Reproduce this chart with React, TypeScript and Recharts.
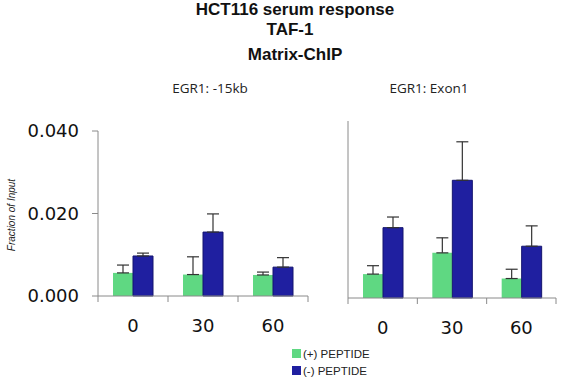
import { BarChart, Bar, XAxis, YAxis, ErrorBar } from "recharts";

const timepoints = ["0", "30", "60"];
const yTicks = [0, 0.02, 0.04];

// EGR1: -15kb
const farPlus = [0.0056, 0.0052, 0.0051];
const farPlusErr = [0.0019, 0.0043, 0.0007];
const farMinus = [0.0097, 0.0155, 0.007];
const farMinusErr = [0.0007, 0.0044, 0.0023];

// EGR1: Exon1
const exonPlus = [0.0054, 0.0102, 0.0044];
const exonPlusErr = [0.0019, 0.0034, 0.0021];
const exonMinus = [0.0159, 0.0266, 0.0117];
const exonMinusErr = [0.0024, 0.0087, 0.0046];

const GREEN = "#5fd882";
const BLUE = "#1f1fa0";
const AXIS = "#8a8a8a";

const build = (plus: number[], plusErr: number[], minus: number[], minusErr: number[]) =>
  timepoints.map((t, i) => ({
    t,
    plus: plus[i],
    plusErr: [0, plusErr[i]],
    minus: minus[i],
    minusErr: [0, minusErr[i]],
  }));

const farData = build(farPlus, farPlusErr, farMinus, farMinusErr);
const exonData = build(exonPlus, exonPlusErr, exonMinus, exonMinusErr);

// category label at band centre, tick marks on band boundaries
const BandTick = (props: any) => {
  const { x, y, payload, index, visibleTicksCount, width } = props;
  const half = payload.offset || width / visibleTicksCount / 2;
  return (
    <g>
      <line x1={x - half} x2={x - half} y1={y} y2={y + 6} stroke={AXIS} />
      {index === visibleTicksCount - 1 && (
        <line x1={x + half} x2={x + half} y1={y} y2={y + 6} stroke={AXIS} />
      )}
      <text x={x} y={y + 36} textAnchor="middle" fontSize={18} fill="#111" fontFamily="DejaVu Sans">
        {payload.value}
      </text>
    </g>
  );
};

function Panel({ data, showLabels, yWidth, width, top, plotH, right }: any) {
  return (
    <BarChart
      width={width}
      height={top + plotH + 44}
      data={data}
      margin={{ top, right, left: 0, bottom: 0 }}
      barGap={0}
      barSize={20}
    >
      <XAxis
        dataKey="t"
        stroke={AXIS}
        tickLine={false}
        tickSize={0}
        tickMargin={0}
        height={44}
        interval={0}
        tick={<BandTick />}
      />
      <YAxis
        domain={[0, 0.04]}
        ticks={yTicks}
        width={yWidth}
        stroke={AXIS}
        tickSize={6}
        tickMargin={13}
        tick={showLabels ? { fontSize: 18, fill: "#111", fontFamily: "DejaVu Sans" } : false}
        tickFormatter={(v: number) => v.toFixed(3)}
      />
      <Bar dataKey="plus" fill={GREEN} isAnimationActive={false}>
        <ErrorBar dataKey="plusErr" width={6} stroke="#333" strokeWidth={1.2} />
      </Bar>
      <Bar dataKey="minus" fill={BLUE} stroke="#15156e" strokeWidth={1} isAnimationActive={false}>
        <ErrorBar dataKey="minusErr" width={6} stroke="#333" strokeWidth={1.2} />
      </Bar>
    </BarChart>
  );
}

export default function App() {
  return (
    <div
      style={{
        position: "absolute",
        left: 0,
        top: 0,
        width: 562,
        height: 384,
        background: "#fff",
        overflow: "hidden",
      }}
    >
      <div style={{ position: "absolute", left: 0, top: 0 }}>
        <Panel data={farData} showLabels yWidth={98} width={310} top={131} plotH={165} right={2} />
      </div>
      <div style={{ position: "absolute", left: 310, top: 0 }}>
        <Panel data={exonData} showLabels={false} yWidth={38} width={252} top={121} plotH={177} right={6} />
      </div>
      <svg
        width={562}
        height={384}
        style={{ position: "absolute", left: 0, top: 0, pointerEvents: "none" }}
      >
        <g fontFamily="Liberation Sans, Arial" fontWeight="bold" fontSize={17} fill="#111" textAnchor="middle">
          <text x={295} y={15}>HCT116 serum response</text>
          <text x={290} y={35}>TAF-1</text>
          <text x={295} y={60}>Matrix-ChIP</text>
        </g>
        <g fontFamily="Open Sans" fontSize={13.5} fill="#222" textAnchor="middle">
          <text x={210} y={93}>EGR1: -15kb</text>
          <text x={429} y={93}>EGR1: Exon1</text>
        </g>
        <text
          transform="translate(15,215) rotate(-90)"
          textAnchor="middle"
          fontFamily="Liberation Sans, Arial"
          fontStyle="italic"
          fontSize={10}
          fill="#222"
        >
          Fraction of Input
        </text>
        <g fontFamily="Liberation Sans, Arial" fontSize={11.5} fill="#222">
          <rect x={292} y={349} width={9} height={9} fill={GREEN} />
          <text x={303} y={358}>(+) PEPTIDE</text>
          <rect x={292} y={366} width={9} height={9} fill={BLUE} />
          <text x={303} y={375}>(-) PEPTIDE</text>
        </g>
      </svg>
    </div>
  );
}
